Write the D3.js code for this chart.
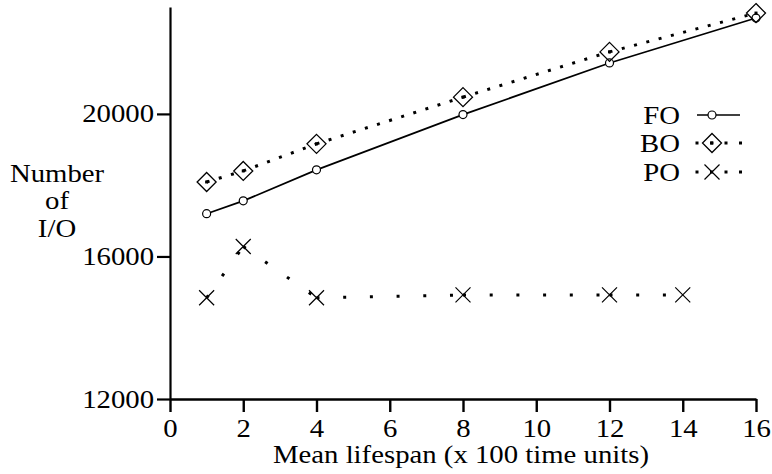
<!DOCTYPE html>
<html><head><meta charset="utf-8">
<script src="https://cdn.jsdelivr.net/npm/d3@7"></script>
<style>html,body{margin:0;padding:0;background:#fff;}svg{display:block;}</style>
</head><body>
<svg id="c" width="772" height="474"></svg>
<script>
const lifespan = [1, 2, 4, 8, 12, 16];
const foValues = [17200, 17560, 18430, 19980, 21430, 22690];
const boValues = [18090, 18400, 19160, 20470, 21740, 22830];
const poX = [1, 2, 4, 8, 12, 14];
const poValues = [14840, 16280, 14840, 14920, 14920, 14920];
const xTicks = [0, 2, 4, 6, 8, 10, 12, 14, 16];
const yTicks = [12000, 16000, 20000];
const seriesNames = ["FO", "BO", "PO"];

const svg = d3.select("#c");
const FONT = "'Liberation Serif', 'Times New Roman', serif";
const SX = 1.15;
const x = d3.scaleLinear().domain([0, 16]).range([170, 756]);
const y = d3.scaleLinear().domain([12000, 23000]).range([399, 7]);

// axes
const gx = svg.append("g").attr("transform", "translate(0,399)")
  .call(d3.axisBottom(x).tickValues(xTicks).tickSize(13).tickSizeOuter(0).tickFormat(d3.format("d")));
gx.select(".domain").attr("stroke-width", 2.6);
gx.selectAll(".tick line").attr("stroke-width", 2.4);
gx.selectAll(".tick text").attr("y", 0).attr("dy", 0)
  .attr("transform", `translate(0,38) scale(${SX},1)`)
  .attr("font-family", FONT).attr("font-size", 25).attr("fill", "#000");

const gy = svg.append("g").attr("transform", "translate(170,0)")
  .call(d3.axisLeft(y).tickValues(yTicks).tickSize(13).tickSizeOuter(0).tickFormat(d3.format("d")));
gy.select(".domain").attr("stroke-width", 2.2);
gy.selectAll(".tick line").attr("stroke-width", 2.2);
gy.selectAll(".tick text").attr("x", 0).attr("dy", 0)
  .attr("transform", `translate(-16,8) scale(${SX},1)`)
  .attr("font-family", FONT).attr("font-size", 25).attr("fill", "#000").attr("text-anchor", "end");
svg.selectAll(".domain, .tick line").attr("stroke", "#000");

// axis titles
function stretchedText(tx, ty, str, anchor) {
  svg.append("text").attr("transform", `translate(${tx},${ty}) scale(${SX},1)`)
    .attr("font-family", FONT).attr("font-size", 25).attr("text-anchor", anchor || "middle")
    .attr("fill", "#000").text(str);
}
stretchedText(461, 463, "Mean lifespan (x 100 time units)");
stretchedText(57, 182, "Number");
stretchedText(57, 209, "of");
stretchedText(57, 237, "I/O");

// series
const fo = lifespan.map((d, i) => [d, foValues[i]]);
const bo = lifespan.map((d, i) => [d, boValues[i]]);
const po = poX.map((d, i) => [d, poValues[i]]);
const line = d3.line().x(d => x(d[0])).y(d => y(d[1]));

svg.append("path").datum(fo).attr("d", line).attr("fill", "none").attr("stroke", "#000").attr("stroke-width", 1.7);

function dotted(data, dash) {
  d3.pairs(data).forEach(p => {
    svg.append("path").datum(p).attr("d", line).attr("fill", "none")
      .attr("stroke", "#000").attr("stroke-width", 3).attr("stroke-dasharray", dash);
  });
}
dotted(bo, "3,9.7");
dotted(po, "3,23.7");

function circleMark(cx, cy) {
  svg.append("circle").attr("cx", cx).attr("cy", cy).attr("r", 4).attr("fill", "#fff")
    .attr("stroke", "#000").attr("stroke-width", 1.2);
}
function diamondMark(cx, cy) {
  const r = 9.5;
  svg.append("path").attr("d", `M${cx},${cy - r}L${cx + r},${cy}L${cx},${cy + r}L${cx - r},${cy}Z`)
    .attr("fill", "none").attr("stroke", "#000").attr("stroke-width", 1.3);
  svg.append("rect").attr("x", cx - 1.5).attr("y", cy - 1.5).attr("width", 3).attr("height", 3).attr("fill", "#000");
}
function crossMark(cx, cy) {
  const r = 7.5;
  svg.append("path").attr("d", `M${cx - r},${cy - r}L${cx + r},${cy + r}M${cx - r},${cy + r}L${cx + r},${cy - r}`)
    .attr("fill", "none").attr("stroke", "#000").attr("stroke-width", 1.2);
}
fo.forEach(d => circleMark(x(d[0]), y(d[1])));
bo.forEach(d => diamondMark(x(d[0]), y(d[1])));
po.forEach(d => crossMark(x(d[0]), y(d[1])));

// legend
const legY = [115, 143, 172];
seriesNames.forEach((n, i) => stretchedText(680, legY[i] + 9, n, "end"));
svg.append("line").attr("x1", 697).attr("x2", 740).attr("y1", legY[0]).attr("y2", legY[0])
  .attr("stroke", "#000").attr("stroke-width", 1.7);
circleMark(712, legY[0]);
svg.append("line").attr("x1", 695.5).attr("x2", 743).attr("y1", legY[1]).attr("y2", legY[1])
  .attr("stroke", "#000").attr("stroke-width", 3).attr("stroke-dasharray", "3,11.5");
diamondMark(712, legY[1]);
svg.append("line").attr("x1", 695.5).attr("x2", 743).attr("y1", legY[2]).attr("y2", legY[2])
  .attr("stroke", "#000").attr("stroke-width", 3).attr("stroke-dasharray", "3,11.5");
crossMark(712, legY[2]);
</script>
</body></html>
